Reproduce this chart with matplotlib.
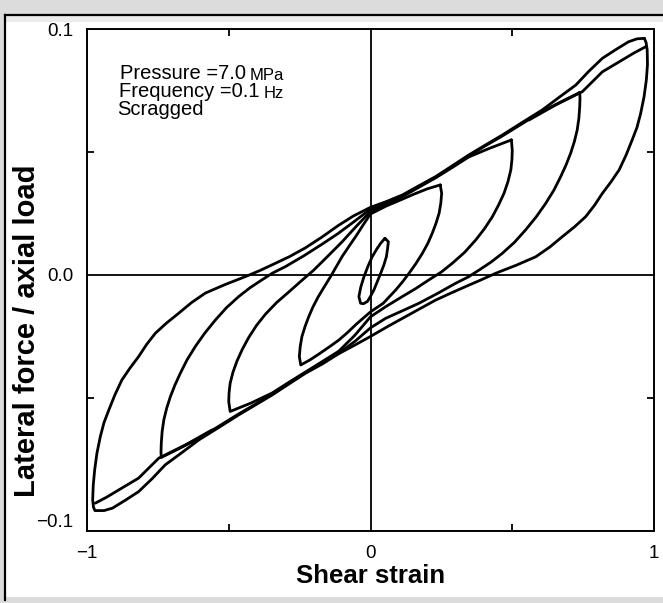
import matplotlib
matplotlib.use('Agg')
import matplotlib.pyplot as plt
from matplotlib.patches import Rectangle
from matplotlib.lines import Line2D

# shear strain vs lateral force / axial load
# each loop: upper branch (right tip -> left tip), then lower branch (left tip -> right tip)

# largest loop (strain amplitude ~ 1)
loop1_up_x = [0.966, 0.940, 0.910, 0.865, 0.818, 0.770, 0.724, 0.665, 0.606, 0.535, 0.465, 0.405,
              0.347, 0.290, 0.230, 0.170, 0.112, 0.055, 0.0, -0.060, -0.115, -0.170, -0.230,
              -0.285, -0.340, -0.390, -0.442, -0.515, -0.583, -0.632, -0.677, -0.720, -0.759,
              -0.790, -0.818, -0.848, -0.877, -0.901, -0.923, -0.940, -0.953, -0.965, -0.973,
              -0.978, -0.980, -0.977, -0.972]
loop1_up_y = [0.0962, 0.0960, 0.0948, 0.0916, 0.0881, 0.0828, 0.0772, 0.0722, 0.0671, 0.0620,
              0.0569, 0.0528, 0.0488, 0.0445, 0.0400, 0.0362, 0.0325, 0.0298, 0.0275, 0.0240,
              0.0200, 0.0155, 0.0110, 0.0075, 0.0045, 0.0018, -0.0007, -0.0040, -0.0074, -0.0113,
              -0.0156, -0.0196, -0.0237, -0.0283, -0.0332, -0.0378, -0.0427, -0.0486, -0.0549,
              -0.0600, -0.0657, -0.0725, -0.0793, -0.0855, -0.0915, -0.0945, -0.0958]
loop1_lo_x = [-0.972, -0.940, -0.910, -0.865, -0.818, -0.770, -0.724, -0.665, -0.606, -0.535,
              -0.465, -0.405, -0.347, -0.290, -0.230, -0.170, -0.112, -0.055, 0.0, 0.060, 0.115,
              0.170, 0.230, 0.285, 0.340, 0.390, 0.442, 0.515, 0.583, 0.632, 0.677, 0.720, 0.759,
              0.790, 0.818, 0.848, 0.877, 0.901, 0.923, 0.940, 0.953, 0.965, 0.973, 0.977, 0.976,
              0.972, 0.966]
loop1_lo_y = [-0.0958, -0.0958, -0.0948, -0.0916, -0.0881, -0.0828, -0.0772, -0.0722, -0.0671,
              -0.0620, -0.0569, -0.0528, -0.0488, -0.0445, -0.0400, -0.0362, -0.0320, -0.0285,
              -0.0250, -0.0210, -0.0175, -0.0140, -0.0102, -0.0073, -0.0045, -0.0020, 0.0007,
              0.0040, 0.0074, 0.0113, 0.0156, 0.0196, 0.0237, 0.0283, 0.0332, 0.0378, 0.0427,
              0.0486, 0.0549, 0.0600, 0.0657, 0.0725, 0.0793, 0.0855, 0.0915, 0.0945, 0.0962]
# second-cycle traces near the tips of the largest loop
band_hi_x = [0.971, 0.930, 0.888, 0.818, 0.747, 0.700, 0.653, 0.605, 0.559]
band_hi_y = [0.0928, 0.0903, 0.0874, 0.0826, 0.0745, 0.0718, 0.0691, 0.0660, 0.0630]
band_lo_x = [-0.971, -0.930, -0.888, -0.818, -0.747, -0.700, -0.653, -0.605, -0.559]
band_lo_y = [-0.0928, -0.0903, -0.0874, -0.0826, -0.0745, -0.0718, -0.0691, -0.0660, -0.0630]

# strain amplitude ~ 0.75
loop2_up_x = [0.738, 0.665, 0.606, 0.535, 0.465, 0.405, 0.347, 0.290, 0.230, 0.170, 0.112, 0.055,
              0.0, -0.060, -0.115, -0.171, -0.235, -0.300, -0.345, -0.383, -0.425, -0.465,
              -0.508, -0.547, -0.585, -0.618, -0.647, -0.671, -0.690, -0.706, -0.719, -0.729,
              -0.735, -0.738, -0.739, -0.738]
loop2_up_y = [0.0742, 0.0700, 0.0665, 0.0615, 0.0565, 0.0525, 0.0485, 0.0442, 0.0398, 0.0360,
              0.0322, 0.0295, 0.0268, 0.0215, 0.0168, 0.0125, 0.0078, 0.0034, 0.0008, -0.0020,
              -0.0052, -0.0088, -0.0133, -0.0183, -0.0237, -0.0291, -0.0345, -0.0400, -0.0448,
              -0.0495, -0.0542, -0.0589, -0.0637, -0.0684, -0.0720, -0.0742]
loop2_lo_x = [-0.738, -0.665, -0.606, -0.535, -0.465, -0.405, -0.347, -0.290, -0.230, -0.170,
              -0.112, -0.055, 0.0, 0.054, 0.110, 0.171, 0.235, 0.300, 0.345, 0.383, 0.425, 0.465,
              0.508, 0.547, 0.585, 0.618, 0.647, 0.671, 0.690, 0.706, 0.719, 0.729, 0.735, 0.738,
              0.739, 0.738]
loop2_lo_y = [-0.0742, -0.0700, -0.0665, -0.0615, -0.0565, -0.0525, -0.0485, -0.0442, -0.0398,
              -0.0358, -0.0318, -0.0270, -0.0215, -0.0176, -0.0147, -0.0115, -0.0076, -0.0034,
              -0.0008, 0.0020, 0.0052, 0.0088, 0.0133, 0.0183, 0.0237, 0.0291, 0.0345, 0.0400,
              0.0448, 0.0495, 0.0542, 0.0589, 0.0637, 0.0684, 0.0720, 0.0742]

# strain amplitude ~ 0.5
loop3_up_x = [0.497, 0.420, 0.347, 0.290, 0.230, 0.170, 0.112, 0.055, 0.0, -0.050, -0.100,
              -0.150, -0.200, -0.245, -0.289, -0.331, -0.371, -0.402, -0.430, -0.452, -0.471,
              -0.485, -0.495, -0.499, -0.500, -0.495]
loop3_up_y = [0.0549, 0.0515, 0.0480, 0.0438, 0.0395, 0.0356, 0.0318, 0.0288, 0.0258, 0.0198,
              0.0135, 0.0077, 0.0020, -0.0025, -0.0070, -0.0112, -0.0160, -0.0205, -0.0255,
              -0.0302, -0.0350, -0.0395, -0.0440, -0.0480, -0.0515, -0.0555]
loop3_lo_x = [-0.495, -0.420, -0.347, -0.290, -0.230, -0.170, -0.112, -0.055, 0.0, 0.055, 0.112,
              0.160, 0.206, 0.250, 0.289, 0.332, 0.371, 0.402, 0.430, 0.452, 0.471, 0.485, 0.495,
              0.499, 0.500, 0.497]
loop3_lo_y = [-0.0555, -0.0520, -0.0480, -0.0438, -0.0395, -0.0352, -0.0310, -0.0245, -0.0170,
              -0.0128, -0.0088, -0.0055, -0.0020, 0.0012, 0.0048, 0.0092, 0.0142, 0.0188, 0.0237,
              0.0285, 0.0332, 0.0380, 0.0427, 0.0470, 0.0508, 0.0549]

# strain amplitude ~ 0.25
loop4_up_x = [0.246, 0.200, 0.150, 0.112, 0.055, 0.0, -0.025, -0.050, -0.075, -0.100, -0.120,
              -0.140, -0.163, -0.185, -0.203, -0.218, -0.231, -0.242, -0.248, -0.251, -0.246]
loop4_up_y = [0.0366, 0.0350, 0.0327, 0.0308, 0.0280, 0.0248, 0.0205, 0.0160, 0.0118, 0.0075,
              0.0035, -0.0005, -0.0048, -0.0090, -0.0130, -0.0170, -0.0210, -0.0251, -0.0292,
              -0.0332, -0.0366]
loop4_lo_x = [-0.246, -0.213, -0.180, -0.146, -0.112, -0.080, -0.050, -0.025, 0.0, 0.045, 0.089,
              0.113, 0.136, 0.160, 0.183, 0.202, 0.218, 0.231, 0.242, 0.248, 0.251, 0.246]
loop4_lo_y = [-0.0366, -0.0345, -0.0320, -0.0293, -0.0265, -0.0233, -0.0200, -0.0175, -0.0150,
              -0.0115, -0.0061, -0.0028, 0.0007, 0.0046, 0.0088, 0.0128, 0.0170, 0.0210, 0.0251,
              0.0292, 0.0332, 0.0366]

# small loop near the origin
loop5_x = [0.051, 0.063, 0.060, 0.056, 0.047, 0.036, 0.024, 0.012, 0.0, -0.011, -0.025, -0.035,
           -0.041, -0.034, -0.023, -0.009, 0.006, 0.022, 0.036, 0.051]
loop5_y = [0.0149, 0.0135, 0.0105, 0.0074, 0.0040, 0.0007, -0.0027, -0.0061, -0.0087, -0.0108,
           -0.0117, -0.0115, -0.0088, -0.0048, -0.0007, 0.0035, 0.0074, 0.0105, 0.0129, 0.0149]

xtick_vals = [-1, 0, 1]
xtick_labels = ['\u22121', '0', '1']
ytick_vals = [-0.1, 0.0, 0.1]
ytick_labels = ['\u22120.1', '0.0', '0.1']

plt.rcParams['font.family'] = ['Liberation Sans', 'DejaVu Sans']

W, H = 663, 603
fig = plt.figure(figsize=(W / 100, H / 100), dpi=100, facecolor='#dcdcdc')

# white panel with black frame (left and top edges visible)
fig.patches.append(Rectangle((5 / W, 1 - 597 / H), 1.0, (597 - 15) / H,
                             transform=fig.transFigure, facecolor='white',
                             edgecolor='none', zorder=-10))
fig.patches.append(Rectangle((6 / W, 1 - 22 / H), 1.0, 6 / H,
                             transform=fig.transFigure, facecolor='#ebebeb',
                             edgecolor='none', zorder=-9))
fig.lines.append(Line2D([5 / W, 5 / W], [1 - 600 / H, 1 - 14.5 / H], transform=fig.transFigure,
                        color='black', lw=1.6, zorder=-8))
fig.lines.append(Line2D([5 / W, 1.0], [1 - 14.5 / H, 1 - 14.5 / H], transform=fig.transFigure,
                        color='black', lw=1.6, zorder=-8))

ax = fig.add_axes([87 / W, 1 - 531 / H, (654 - 87) / W, (531 - 29) / H])
ax.set_zorder(1)
ax.set_facecolor('none')

lw = 2.0
loops = [(loop1_up_x + loop1_lo_x, loop1_up_y + loop1_lo_y),
         (band_hi_x, band_hi_y), (band_lo_x, band_lo_y),
         (loop2_up_x + loop2_lo_x, loop2_up_y + loop2_lo_y),
         (loop3_up_x + loop3_lo_x, loop3_up_y + loop3_lo_y),
         (loop4_up_x + loop4_lo_x, loop4_up_y + loop4_lo_y),
         (loop5_x, loop5_y)]
for xs, ys in loops:
    ax.plot(xs, ys, color='black', lw=lw, solid_joinstyle='round', solid_capstyle='round')

ax.axhline(0, color='black', lw=1.3)
ax.axvline(0, color='black', lw=1.3)

ax.set_xlim(-1, 1)
ax.set_ylim(-0.1041, 0.1)
ax.set_xticks(xtick_vals)
ax.set_xticklabels(xtick_labels, fontsize=13.5)
ax.set_yticks(ytick_vals)
ax.set_yticklabels(ytick_labels, fontsize=13.5)
ax.set_xticks([-0.5, 0.5], minor=True)
ax.set_yticks([-0.05, 0.05], minor=True)
ax.tick_params(which='major', length=0, pad=10)
ax.tick_params(which='minor', direction='in', length=5, width=1.3,
               top=True, right=True)
for sp in ax.spines.values():
    sp.set_linewidth(1.4)

# annotation block, smaller unit text chained after the value
t1 = ax.text(0.058, 0.900, 'Pressure =7.0', transform=ax.transAxes, fontsize=14.5, va='baseline')
ax.annotate('MPa', xy=(1, 0), xycoords=t1, xytext=(3, 0), textcoords='offset points',
            fontsize=12, va='bottom')
t2 = ax.text(0.056, 0.865, 'Frequency =0.1', transform=ax.transAxes, fontsize=14.5, va='baseline')
ax.annotate('Hz', xy=(1, 0), xycoords=t2, xytext=(3, 0), textcoords='offset points',
            fontsize=12, va='bottom')
ax.text(0.053, 0.829, 'Scragged', transform=ax.transAxes, fontsize=14.5, va='baseline')

fig.text(371 / W, 1 - 576 / H, 'Shear strain', ha='center', va='center',
         fontsize=18.5, fontweight='bold')
fig.text(27 / W, 1 - 331 / H, 'Lateral force / axial load', ha='center', va='center',
         rotation=90, fontsize=21, fontweight='bold')

fig.savefig('out.png', dpi=100, facecolor=fig.get_facecolor())
